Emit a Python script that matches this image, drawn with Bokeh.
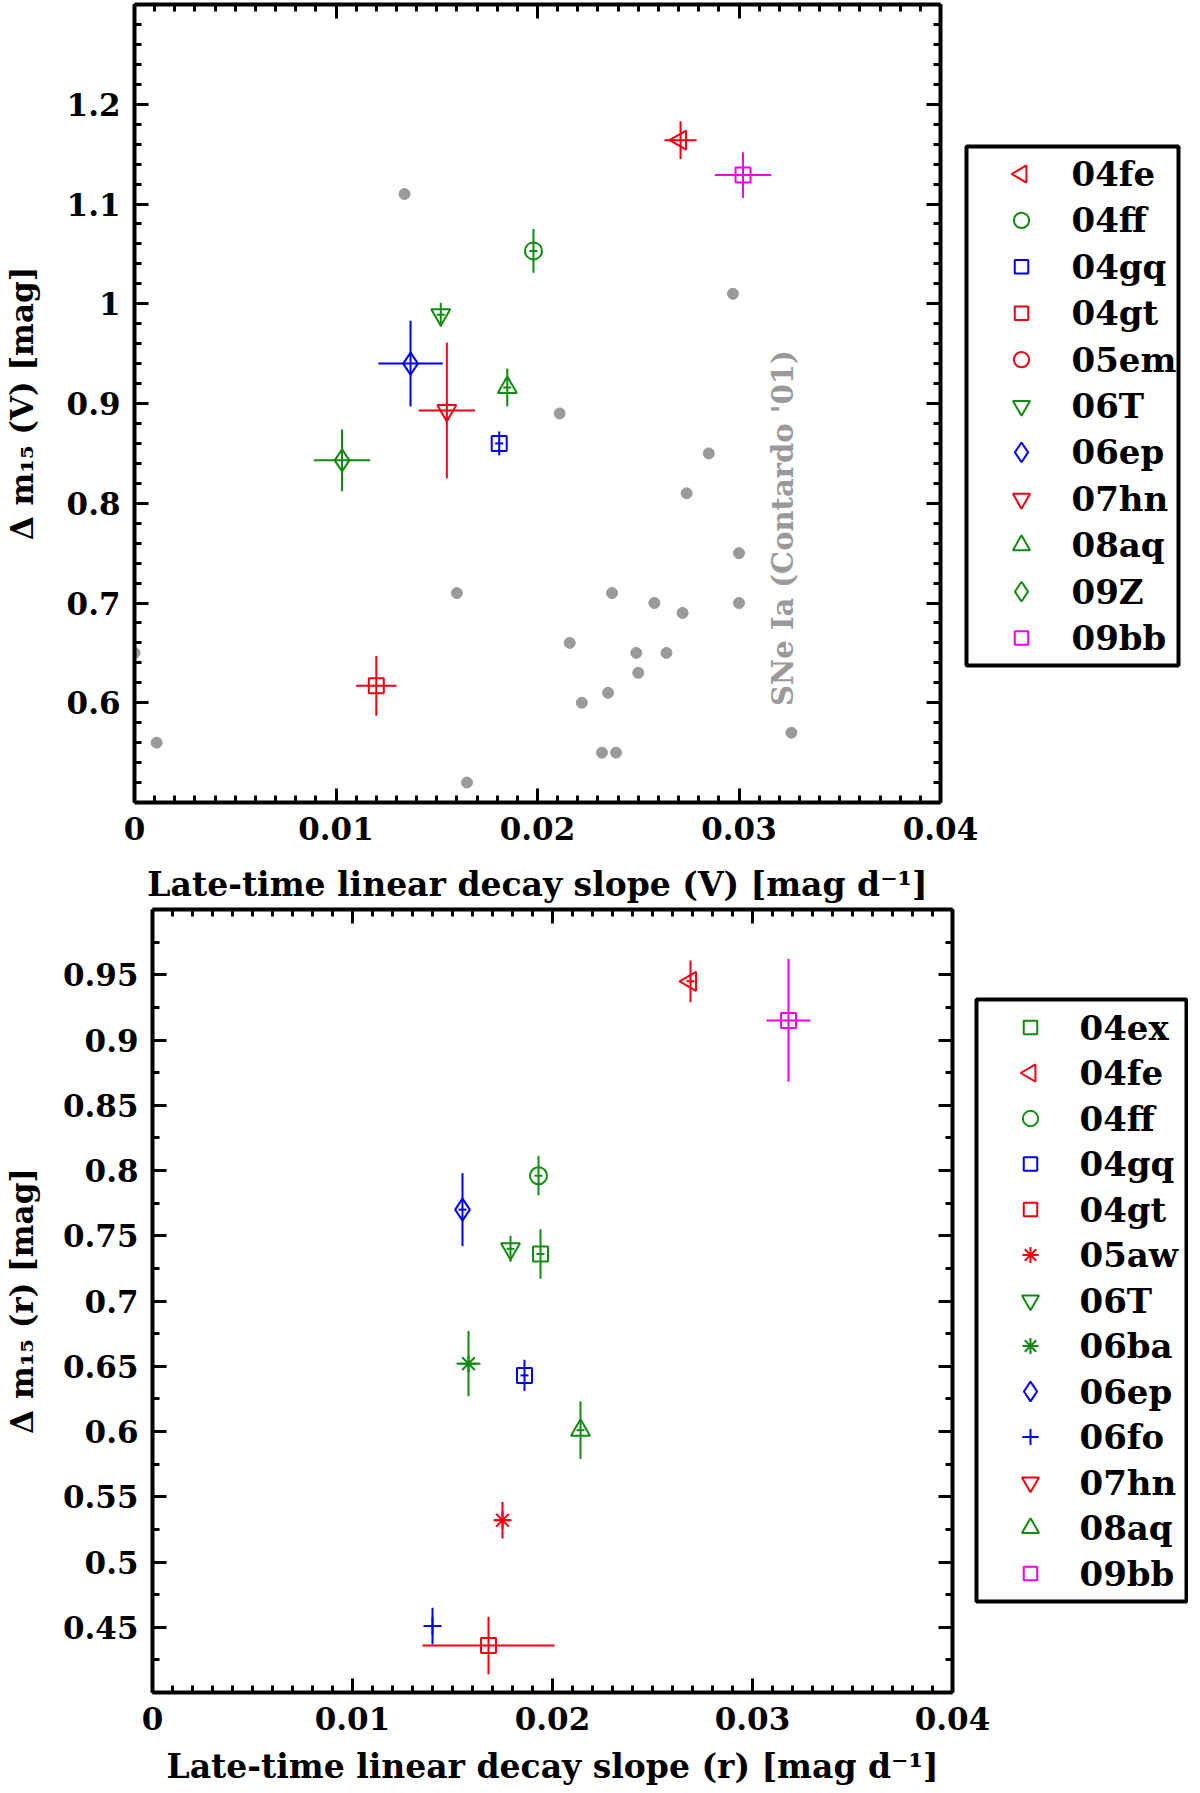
import numpy as np
from bokeh.core.properties import value
from bokeh.embed import file_html
from bokeh.layouts import row
from bokeh.models import (ColumnDataSource, CustomJSTickFormatter, FixedTicker, Label,
                          LinearAxis, Range1d)
from bokeh.plotting import figure
from bokeh.resources import INLINE

# ---- V band: decline rate vs late-time slope ----
sn_v = ["04fe", "04ff", "04gq", "04gt", "05em", "06T", "06ep", "07hn", "08aq", "09Z", "09bb"]
slope_v = [0.0271, 0.0198, 0.0181, 0.0120, np.nan, 0.0152, 0.0137, 0.0155, 0.0185, 0.0103, 0.0302]
slope_v_err = [0.0008, 0.0002, 0.0002, 0.0010, np.nan, 0.0002, 0.0016, 0.0014, 0.0002, 0.0014, 0.0014]
dm15_v = [1.164, 1.053, 0.860, 0.617, np.nan, 0.989, 0.940, 0.893, 0.916, 0.843, 1.129]
dm15_v_err = [0.019, 0.022, 0.012, 0.030, np.nan, 0.012, 0.043, 0.068, 0.019, 0.031, 0.023]

# Contardo et al. (2001) comparison sample
contardo_slope = [0.0000, 0.0011, 0.0134, 0.0160, 0.0165, 0.0211, 0.0216, 0.0222, 0.0232,
                  0.0235, 0.0237, 0.0239, 0.0249, 0.0250, 0.0258, 0.0264, 0.0272, 0.0274,
                  0.0285, 0.0297, 0.0300, 0.0300, 0.0326]
contardo_dm15 = [0.65, 0.56, 1.11, 0.71, 0.52, 0.89, 0.66, 0.60, 0.55,
                 0.61, 0.71, 0.55, 0.65, 0.63, 0.70, 0.65, 0.69, 0.81,
                 0.85, 1.01, 0.75, 0.70, 0.57]

# ---- r band ----
sn_r = ["04ex", "04fe", "04ff", "04gq", "04gt", "05aw", "06T", "06ba", "06ep", "06fo",
        "07hn", "08aq", "09bb"]
slope_r = [0.0194, 0.0269, 0.0193, 0.0186, 0.0168, 0.0175, 0.0179, 0.0158, 0.0155, 0.0140,
           np.nan, 0.0214, 0.0318]
slope_r_err = [0.0002, 0.0002, 0.0002, 0.0002, 0.0033, 0.0004, 0.0002, 0.0006, 0.0002, 0.0002,
               np.nan, 0.0002, 0.0011]
dm15_r = [0.736, 0.945, 0.796, 0.643, 0.436, 0.532, 0.740, 0.652, 0.770, 0.451,
          np.nan, 0.601, 0.915]
dm15_r_err = [0.019, 0.016, 0.015, 0.012, 0.022, 0.014, 0.010, 0.025, 0.028, 0.014,
              np.nan, 0.022, 0.047]

x_ticks = [0, 0.01, 0.02, 0.03, 0.04]
y_ticks_v = [0.6, 0.7, 0.8, 0.9, 1.0, 1.1, 1.2]
y_ticks_r = [0.45, 0.5, 0.55, 0.6, 0.65, 0.7, 0.75, 0.8, 0.85, 0.9, 0.95]

RED, GREEN, BLUE, MAGENTA = "#f00010", "#108a10", "#0000f0", "#f000f0"
GREY = "#9a9a9a"
FONT = "DejaVu Serif"

STYLE = {
    "04ex": (GREEN, "square", 0),
    "04fe": (RED, "triangle", np.pi / 2),
    "04ff": (GREEN, "circle", 0),
    "04gq": (BLUE, "square", 0),
    "04gt": (RED, "square", 0),
    "05aw": (RED, "asterisk", 0),
    "05em": (RED, "circle", 0),
    "06T": (GREEN, "inverted_triangle", 0),
    "06ba": (GREEN, "asterisk", 0),
    "06ep": (BLUE, "diamond", 0),
    "06fo": (BLUE, "cross", 0),
    "07hn": (RED, "inverted_triangle", 0),
    "08aq": (GREEN, "triangle", 0),
    "09Z": (GREEN, "diamond", 0),
    "09bb": (MAGENTA, "square", 0),
}
SIZE = {"square": 15, "circle": 17, "triangle": 19, "inverted_triangle": 19,
        "diamond": 22, "asterisk": 18, "cross": 18}

fmt = CustomJSTickFormatter(code="return String(parseFloat(tick.toFixed(4)));")
blank = CustomJSTickFormatter(code="return '';")

RIGHT_PAD = 44      # room for the last x tick label
LEGEND_GAP = 10     # legend panel starts this far right of the frame


def style_axis(ax, ticker, labels=True):
    ax.ticker = ticker
    ax.axis_line_width = 4
    ax.major_tick_line_width = 3
    ax.minor_tick_line_width = 3
    ax.major_tick_in = 14
    ax.major_tick_out = 0
    ax.minor_tick_in = 7
    ax.minor_tick_out = 0
    ax.major_label_text_font = FONT
    ax.major_label_text_font_style = "bold"
    ax.major_label_text_color = "black"
    ax.axis_label_text_font = FONT
    ax.axis_label_text_font_style = "bold"
    ax.axis_label_text_font_size = "31px"
    ax.axis_label_text_color = "black"
    ax.major_label_text_font_size = "31px"
    if labels:
        ax.formatter = fmt
        ax.major_label_standoff = 14
    else:
        ax.formatter = blank
        ax.major_label_standoff = 0


def make_plot(names, slope, slope_err, dm15, dm15_err, y_range, y_ticks, y_minor_step,
              fw, fh, left, top, bottom, band, ylab_standoff, xlab_standoff):
    p = figure(frame_width=fw, frame_height=fh, x_range=Range1d(0, 0.04),
               y_range=Range1d(*y_range), output_backend="svg", toolbar_location=None,
               min_border_left=left, min_border_top=top, min_border_bottom=bottom,
               min_border_right=RIGHT_PAD)
    p.grid.visible = False
    p.outline_line_color = None

    xt = FixedTicker(ticks=x_ticks, minor_ticks=list(np.round(np.arange(0, 0.0405, 0.001), 4)))
    yt = FixedTicker(ticks=y_ticks,
                     minor_ticks=list(np.round(np.arange(y_range[0], y_range[1] + 1e-6, y_minor_step), 4)))
    p.add_layout(LinearAxis(), "above")
    p.add_layout(LinearAxis(), "right")
    style_axis(p.below[0], xt)
    style_axis(p.left[0], yt)
    style_axis(p.above[0], xt, labels=False)
    style_axis(p.right[0], yt, labels=False)
    p.below[0].axis_label = f"Late-time linear decay slope ({band}) [mag d⁻¹]"
    p.below[0].axis_label_text_font_size = "33px"
    p.below[0].axis_label_standoff = xlab_standoff
    p.left[0].axis_label = f"Δ m₁₅ ({band}) [mag]"
    p.left[0].axis_label_standoff = ylab_standoff

    x = np.array(slope)
    y = np.array(dm15)
    xe = np.array(slope_err)
    ye = np.array(dm15_err)
    cols = [STYLE[n][0] for n in names]
    err = ColumnDataSource(dict(x=x, y=y, xl=x - xe, xh=x + xe, yl=y - ye, yh=y + ye, c=cols))
    p.segment("xl", "y", "xh", "y", source=err, line_color="c", line_width=2)
    p.segment("x", "yl", "x", "yh", source=err, line_color="c", line_width=2)

    pts = ColumnDataSource(dict(
        x=x, y=y, c=cols,
        m=[STYLE[n][1] for n in names],
        a=[STYLE[n][2] for n in names],
        s=[SIZE[STYLE[n][1]] for n in names],
    ))
    p.scatter("x", "y", source=pts, marker="m", angle="a", size="s",
              fill_color=None, line_color="c", line_width=2)
    return p


def make_legend(names, fh, top, bottom, width, box, glyph_x, text_x, step):
    # legend drawn in its own pixel-unit panel, pulled left over the plot's right border
    lg = figure(frame_width=width, frame_height=fh, x_range=Range1d(0, width),
                y_range=Range1d(0, fh), output_backend="svg", toolbar_location=None,
                x_axis_location=None, y_axis_location=None,
                min_border_left=0, min_border_right=0, min_border_top=top,
                min_border_bottom=bottom,
                styles={"margin-left": f"-{RIGHT_PAD - LEGEND_GAP}px"})
    lg.grid.visible = False
    lg.outline_line_color = None
    lg.border_fill_color = None
    lg.background_fill_color = None
    b_left, b_right, b_bottom, b_top = box
    lg.quad(left=[b_left], right=[b_right], bottom=[b_bottom], top=[b_top],
            fill_color="white", line_color="black", line_width=4)
    pad = ((b_top - b_bottom) - (len(names) - 1) * step) / 2
    ys = [b_top - pad - i * step for i in range(len(names))]
    src = ColumnDataSource(dict(
        gx=[glyph_x] * len(names), tx=[text_x] * len(names), y=ys, label=names,
        c=[STYLE[n][0] for n in names],
        m=[STYLE[n][1] for n in names],
        a=[STYLE[n][2] for n in names],
        s=[0.9 * SIZE[STYLE[n][1]] for n in names],
    ))
    lg.scatter("gx", "y", source=src, marker="m", angle="a", size="s",
               fill_color=None, line_color="c", line_width=2)
    lg.text("tx", "y", text="label", source=src, text_font=value(FONT),
            text_font_style="bold", text_font_size="34px", text_color="black",
            text_baseline="middle", text_align="left")
    return lg


p1 = make_plot(sn_v, slope_v, slope_v_err, dm15_v, dm15_v_err, (0.5, 1.3), y_ticks_v, 0.02,
               806, 798, 130, 4, 100, "V", 24, 22)
p1.scatter(contardo_slope, contardo_dm15, size=11, color=GREY)
p1.add_layout(Label(x=0.0322, y=0.775, text="SNe Ia (Contardo '01)", angle=np.pi / 2,
                    text_align="center", text_baseline="middle", text_font=FONT,
                    text_font_style="bold", text_font_size="29px", text_color=GREY))
l1 = make_legend(sn_v, 798, 4, 100, 236, (16, 228, 137, 656), 71, 121, 46.4)

p2 = make_plot(sn_r, slope_r, slope_r_err, dm15_r, dm15_r_err, (0.4, 1.0), y_ticks_r, 0.025,
               800, 783, 148, 3, 92, "r", 20, 14)
l2 = make_legend(sn_r, 783, 3, 92, 226, (14, 224, 91, 693), 68, 117, 45.5)

open("out.html", "w").write(file_html([row(p1, l1), row(p2, l2)], INLINE))
